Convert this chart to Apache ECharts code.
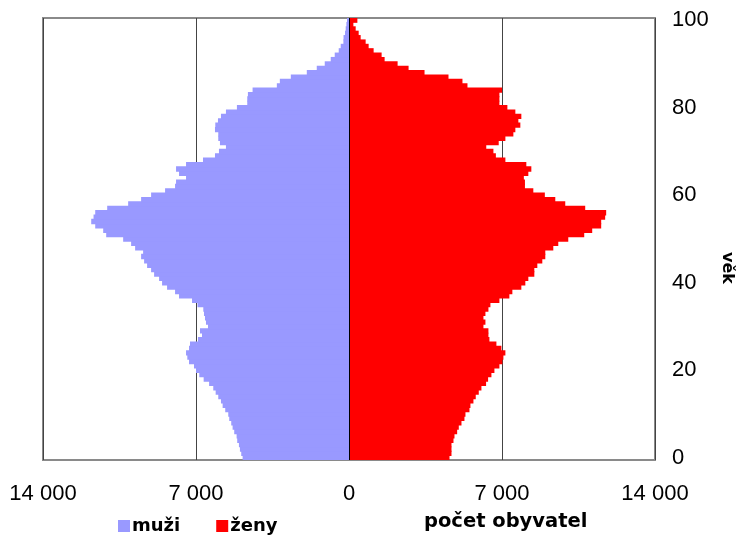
<!DOCTYPE html>
<html>
<head>
<meta charset="utf-8">
<script src="https://cdn.jsdelivr.net/npm/echarts@6/dist/echarts.min.js"></script>
<style>
html,body{margin:0;padding:0;background:#fff;}
#chart{width:738px;height:535px;}
</style>
</head>
<body>
<div id="chart"></div>
<script>
// age categories 0..100
const ages = [];
for (let i = 0; i <= 100; i++) ages.push(String(i));

// males (muži), by age 0..100
const muzi = [4868,4930,4990,5036,5114,5142,5251,5325,5388,5479,
  5524,5662,5781,5858,5981,6100,6210,6400,6650,6850,
  7000,7091,7319,7397,7456,7319,7274,6909,6726,6817,
  6452,6543,6589,6635,6666,6930,7182,7776,7958,8324,
  8552,8689,8917,9054,9237,9374,9511,9420,9785,9968,
  10333,11109,11246,11611,11794,11687,11611,11063,10104,9511,
  9054,8415,7958,7913,7456,7776,7913,7456,6680,6132,
  5950,5630,5904,5981,5981,6132,6117,5995,5858,5630,
  5128,4655,4655,4625,4411,3301,3164,2662,1931,1475,
  1110,836,653,470,379,257,250,181,151,120,
  91];

// females (ženy), by age 0..100
const zeny = [4598,4689,4689,4689,4780,4826,4948,5023,5146,5282,
  5328,5511,5556,5693,5799,5937,6059,6272,6364,6516,
  6653,6881,7018,7064,7155,6972,6744,6424,6379,6379,
  6151,6242,6151,6242,6379,6470,6881,7337,7474,7885,
  8068,8205,8479,8479,8616,8844,8981,8981,9347,9575,
  10032,10762,11127,11538,11538,11720,11766,10807,9894,9438,
  8960,8433,8050,8050,8000,8205,8342,8113,7155,6720,
  6607,6280,6850,7155,7520,7611,7839,7748,7885,7611,
  7246,6881,6881,6881,7004,5420,5191,4552,3456,2726,
  2224,1630,1493,1127,899,762,534,443,306,200,
  383];

const xTicks = [-14000, -7000, 0, 7000, 14000];
const yLabelStep = 20;

function fmt(v){
  const a = Math.abs(Math.round(v));
  return String(a).replace(/\B(?=(\d{3})+(?!\d))/g, ' ');
}

const FONT = '"Liberation Sans", Arial, sans-serif';
const BFONT = '"DejaVu Sans", "Liberation Sans", sans-serif';
const chart = echarts.init(document.getElementById('chart'), null, {renderer:'canvas'});

chart.setOption({
  animation: false,
  backgroundColor: '#fff',
  textStyle: {fontFamily: FONT},
  grid: {left: 43, right: 83, top: 18, bottom: 75, show: true,
         borderColor: '#8a8a8a', borderWidth: 2, backgroundColor: 'transparent'},
  legend: {
    left: 113, top: 512,
    itemWidth: 12, itemHeight: 12, itemGap: 36,
    icon: 'rect',
    textStyle: {fontFamily: BFONT, fontSize: 18, fontWeight: 'bold', color: '#000', padding: [0,0,0,-3]},
    data: ['muži', 'ženy']
  },
  xAxis: {
    type: 'value',
    min: xTicks[0], max: xTicks[xTicks.length-1], interval: 7000,
    axisLine: {show: false},
    axisTick: {show: false},
    splitLine: {show: true, lineStyle: {color: '#444', width: 1}},
    axisLabel: {
      margin: 23, fontSize: 22, color: '#000', fontFamily: FONT,
      formatter: function(v){ return fmt(v); }
    }
  },
  yAxis: {
    type: 'category',
    position: 'right',
    data: ages,
    axisLine: {show: false, onZero: false},
    axisTick: {show: false},
    splitLine: {show: false},
    axisLabel: {
      margin: 17, fontSize: 22, color: '#000', fontFamily: FONT,
      interval: yLabelStep - 1
    }
  },
  graphic: [
    {type: 'text', left: 424, top: 512,
     style: {text: 'počet obyvatel', font: 'bold 19.5px ' + BFONT, fill: '#000'}},
    {type: 'text', x: 727, y: 268, rotation: -Math.PI/2, z: 100,
     style: {text: 'věk', font: 'bold 16px ' + BFONT, fill: '#000', align: 'center', verticalAlign: 'middle'}}
  ],
  series: [
    {
      name: 'muži', type: 'bar',
      data: muzi.map(v => -v),
      barGap: '-100%', barWidth: 5.3,
      itemStyle: {color: '#9999FF'},
      silent: true
    },
    {
      name: 'ženy', type: 'bar',
      data: zeny,
      barGap: '-100%', barWidth: 5.3,
      itemStyle: {color: '#FF0000'},
      silent: true,
      markLine: {
        silent: true, symbol: 'none', label: {show: false},
        lineStyle: {color: '#000', width: 1, type: 'solid'},
        data: [{xAxis: 0}]
      }
    }
  ]
});
</script>
</body>
</html>
